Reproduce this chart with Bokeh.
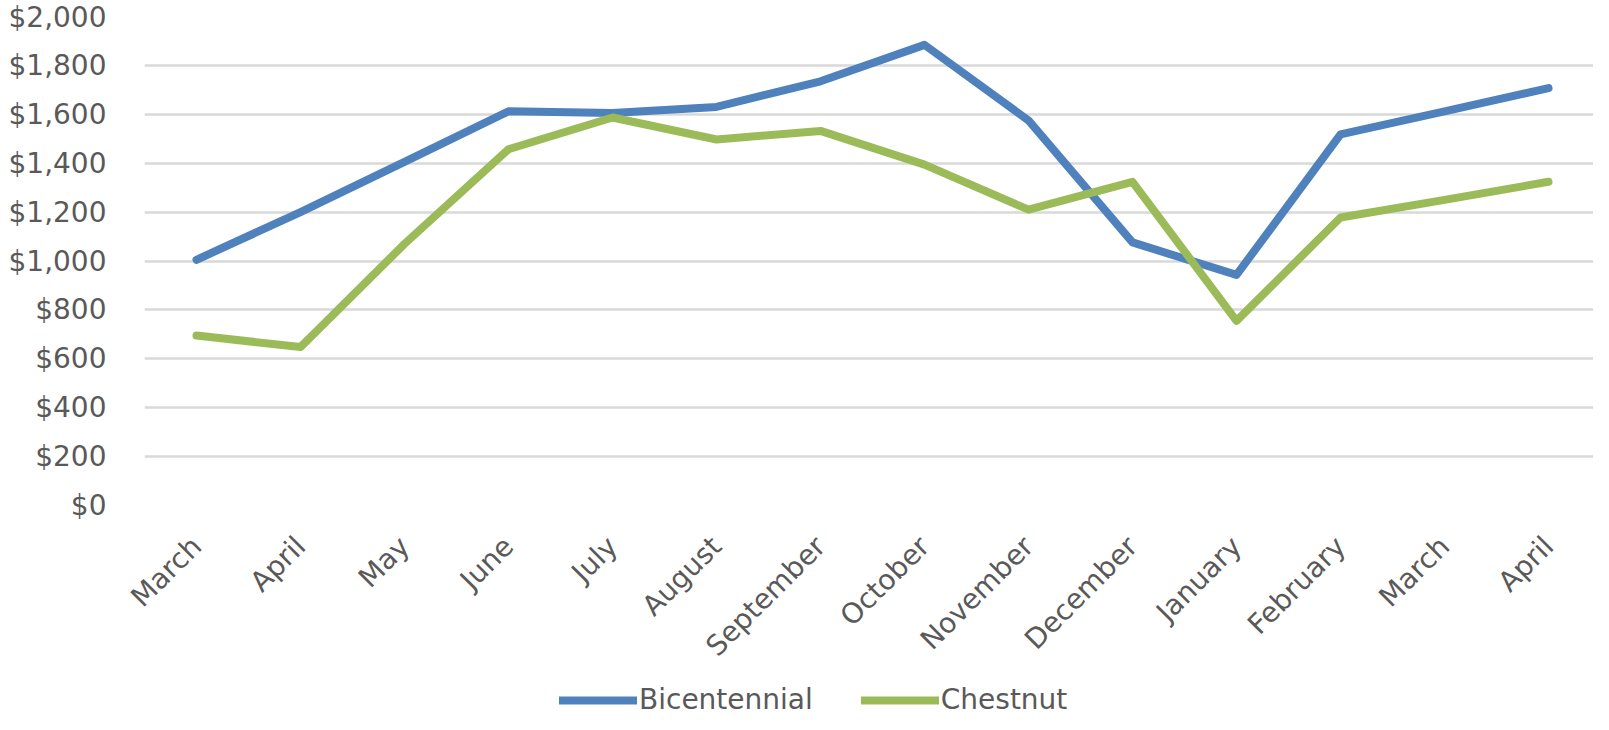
from bokeh.plotting import figure
from bokeh.layouts import column
from bokeh.models import (Range1d, FixedTicker, NumeralTickFormatter, Legend, LegendItem,
                          ColumnDataSource)
from bokeh.embed import file_html
from bokeh.resources import INLINE
import math

months = ["March", "April", "May", "June", "July", "August", "September", "October",
          "November", "December", "January", "February", "March", "April"]
bicentennial = [1005, 1200, 1405, 1612, 1605, 1630, 1735, 1884, 1575, 1076, 943, 1518, 1612, 1707]
chestnut = [695, 648, 1070, 1457, 1587, 1497, 1532, 1394, 1210, 1324, 755, 1178, 1250, 1324]
y_ticks = [0, 200, 400, 600, 800, 1000, 1200, 1400, 1600, 1800, 2000]
series_names = ["Bicentennial", "Chestnut"]
series_colors = ["#4f81bd", "#9bbb59"]

idx = list(range(len(months)))
src = ColumnDataSource(dict(x=idx, b=bicentennial, c=chestnut))

FONT = "DejaVu Sans"
TXT = "#595959"
FS = "28px"

p = figure(frame_width=1449, frame_height=489, min_border_left=144, min_border_top=16,
           min_border_right=0, min_border_bottom=170,
           x_range=Range1d(-0.5, -0.5 + 1449 / 104), y_range=Range1d(0, 2000),
           output_backend="svg", toolbar_location=None, tools="")
p.outline_line_color = None
p.background_fill_color = "white"
p.border_fill_color = "white"

p.xgrid.grid_line_color = None
p.ygrid.grid_line_color = "#d9d9d9"
p.ygrid.grid_line_width = 2.5

p.xaxis.ticker = FixedTicker(ticks=idx)
p.xaxis.major_label_overrides = {i: m for i, m in enumerate(months)}
p.xaxis.major_label_orientation = math.pi / 4
p.yaxis.ticker = FixedTicker(ticks=y_ticks)
p.yaxis.formatter = NumeralTickFormatter(format="$0,0")

for ax in (p.xaxis, p.yaxis):
    ax.axis_line_color = None
    ax.major_tick_line_color = None
    ax.minor_tick_line_color = None
    ax.major_tick_out = 0
    ax.major_tick_in = 0
    ax.minor_tick_out = 0
    ax.minor_tick_in = 0
    ax.major_label_text_font = FONT
    ax.major_label_text_font_size = FS
    ax.major_label_text_color = TXT
p.yaxis.major_label_standoff = 38
p.xaxis.major_label_standoff = 36

for col, name, color in zip(["b", "c"], series_names, series_colors):
    p.line("x", col, source=src, line_color=color, line_width=8,
           line_cap="round", line_join="round")

# Legend strip below the chart (own figure so that the legend is not clipped)
lg = figure(width=1593, height=39, min_border=0, x_range=Range1d(0, 1),
            y_range=Range1d(-20000, -19000), x_axis_location=None, y_axis_location=None,
            output_backend="svg", toolbar_location=None, tools="")
lg.outline_line_color = None
lg.xgrid.grid_line_color = None
lg.ygrid.grid_line_color = None
items = []
for col, name, color in zip(["b", "c"], series_names, series_colors):
    r = lg.line("x", col, source=src, line_color=color, line_width=8,
                line_cap="round", line_join="round")
    items.append(LegendItem(label=name, renderers=[r]))

legend = Legend(items=items, orientation="horizontal", location=(415, 0))
legend.glyph_width = 78
legend.label_standoff = 2
legend.spacing = 48
legend.padding = 0
legend.margin = 0
legend.border_line_color = None
legend.background_fill_alpha = 0
legend.label_text_font = FONT
legend.label_text_font_size = FS
legend.label_text_color = TXT
lg.add_layout(legend, "center")

layout = column(p, lg, spacing=0)
open("out.html", "w").write(file_html(layout, INLINE))
